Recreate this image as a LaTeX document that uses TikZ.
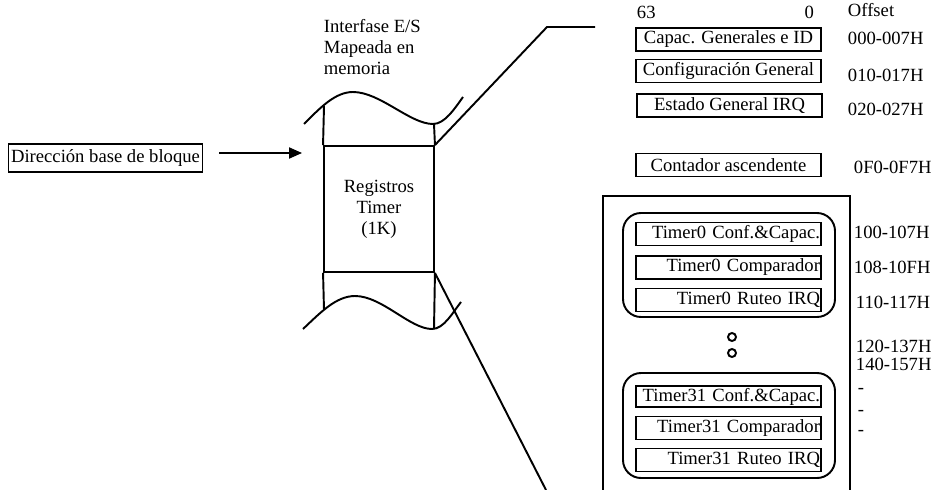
\documentclass[tikz,border=0pt]{standalone}
\usepackage{fontspec}
\setmainfont{Liberation Serif}
\usepackage{tikz}
\usetikzlibrary{arrows.meta}

\begin{document}
\begin{tikzpicture}[x=0.02cm, y=-0.02cm, line width=1.1pt,
    every node/.style={font=\fontsize{10.6}{11.9}\selectfont},
    caja/.style={draw, minimum width=3.7cm, minimum height=0.46cm, inner sep=1pt},
    cajader/.style={caja, inner xsep=0.3pt, text width=3.66cm, align=right},
    grupo/.style={draw, rounded corners=0.36cm},
    rotulo/.style={anchor=base west, inner sep=0pt},
    flecha/.style={-{Triangle[length=0.26cm, width=0.22cm]}}]
    \useasboundingbox (0,0) rectangle (933,490);

    % bloque de la izquierda
    \node[draw, minimum width=3.86cm, minimum height=0.56cm, inner sep=1.5pt] at (105.5, 158) (base) {Dirección base de bloque};

    % mapa de memoria
    \node[anchor=west, inner sep=0pt, align=left] at (323, 47) (mapa) {Interfase E/S\\Mapeada en\\memoria};
    \node[draw, minimum width=2.2cm, minimum height=2.52cm, align=center] at (379, 209) (regs) {Registros\\Timer\\(1K)};
    \draw (304,124) .. controls (320,108) and (335,92) .. (353,92)
                    .. controls (380,92) and (410,124) .. (433,124)
                    .. controls (445,124) and (455,108) .. (463,97);
    \draw (303,329) .. controls (320,313) and (336,296) .. (355,296)
                    .. controls (382,296) and (410,329) .. (432,329)
                    .. controls (444,329) and (453,312) .. (461,302);
    \draw (regs.north west) -- (324,106);
    \draw (regs.south west) -- (324,310);
    \draw (regs.north east) -- (434,124);
    \draw (regs.south east) -- (434,329);

    \draw[flecha, shorten <=0.32cm, shorten >=0.42cm] ([yshift=0.1cm]base.east) -- ([yshift=0.1cm]base.east -| regs.west);

    % lineas de ampliacion
    \coordinate (codo) at (547,27);
    \coordinate (fin) at (595,27);
    \coordinate (abajo) at (546,490);
    \draw (regs.north east) -- (codo) -- (fin);
    \draw (regs.south east) -- (abajo);

    % registros generales
    \node[rotulo] at (636,18) (b63) {63};
    \node[rotulo, anchor=base east] at (815,18) (b0) {0};
    \node[rotulo] at (847,16) (off) {Offset};
    \node[caja] at (728.5, 39.5) (capac) {Capac. Generales e ID};
    \node[caja] at (728.5, 71) (config) {Configuración General};
    \node[caja] at (729.5, 105.5) (estado) {Estado General IRQ};
    \node[caja] at (728.5, 165) (contador) {Contador ascendente};
    \node[rotulo] at (847,44) (o1) {000-007H};
    \node[rotulo] at (847,81) (o2) {010-017H};
    \node[rotulo] at (847,115) (o3) {020-027H};
    \node[rotulo] at (853,173) (o4) {0F0-0F7H};

    % timers
    \draw (603,490) -- (603,196) -- (850,196) -- (850,490);
    \draw[grupo] (623,213) rectangle (835,317);
    \draw[grupo] (623,373) rectangle (835,478);
    \node[cajader] at (728.5, 234) (t0conf) {Timer0 Conf.\&Capac.};
    \node[cajader] at (728.5, 267.5) (t0comp) {Timer0 Comparador};
    \node[cajader] at (728.5, 300) (t0rut) {Timer0 Ruteo IRQ};
    \node[draw, circle, inner sep=0pt, minimum size=0.16cm] at (732,337) (p1) {};
    \node[draw, circle, inner sep=0pt, minimum size=0.16cm] at (732,353) (p2) {};
    \node[cajader, minimum height=0.42cm] at (728.5, 396.5) (t31conf) {Timer31 Conf.\&Capac.};
    \node[cajader] at (728.5, 428) (t31comp) {Timer31 Comparador};
    \node[cajader] at (728.5, 460) (t31rut) {Timer31 Ruteo IRQ};
    \node[rotulo] at (853,238) (o5) {100-107H};
    \node[rotulo] at (853,273) (o6) {108-10FH};
    \node[rotulo] at (855,308) (o7) {110-117H};
    \node[rotulo] at (855,352) (o8) {120-137H};
    \node[rotulo] at (855,370) (o9) {140-157H};
    \node[rotulo] at (857,393) (g1) {-};
    \node[rotulo] at (857,415) (g2) {-};
    \node[rotulo] at (857,435) (g3) {-};
\end{tikzpicture}
\end{document}
